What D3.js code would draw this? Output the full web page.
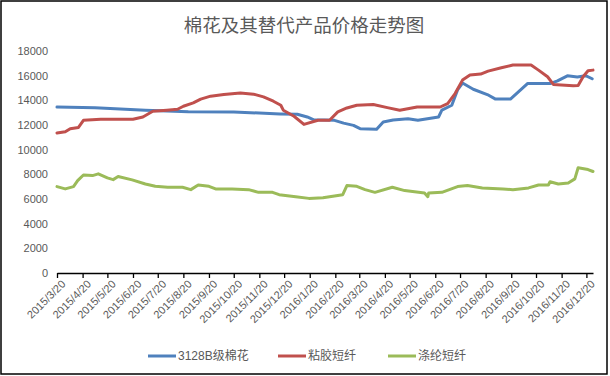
<!DOCTYPE html>
<html>
<head>
<meta charset="utf-8">
<script src="https://cdn.jsdelivr.net/npm/d3@7"></script>
<style>
  body { margin: 0; background: #fff; }
  svg text { font-family: "Liberation Sans", "Noto Sans CJK SC", sans-serif; fill: #595959; }
</style>
</head>
<body>
<svg id="chart" width="610" height="376"></svg>
<script>
const chartTitle = "棉花及其替代产品价格走势图";
const seriesNames = ["3128B级棉花", "粘胶短纤", "涤纶短纤"];
const seriesColors = ["#4F81BD", "#C0504D", "#9BBB59"];
const yTicks = [0, 2000, 4000, 6000, 8000, 10000, 12000, 14000, 16000, 18000];
const xTickLabels = ["2015/3/20","2015/4/20","2015/5/20","2015/6/20","2015/7/20","2015/8/20",
  "2015/9/20","2015/10/20","2015/11/20","2015/12/20","2016/1/20","2016/2/20","2016/3/20",
  "2016/4/20","2016/5/20","2016/6/20","2016/7/20","2016/8/20","2016/9/20","2016/10/20",
  "2016/11/20","2016/12/20"];

// 3128B级棉花
const cotton = [
  ["2015-03-20",13450],["2015-05-05",13400],["2015-07-05",13200],["2015-08-26",13080],
  ["2015-10-20",13050],["2015-12-15",12900],["2016-01-05",12870],["2016-01-17",12650],
  ["2016-01-25",12420],["2016-02-19",12380],["2016-03-01",12150],["2016-03-13",11970],
  ["2016-03-21",11700],["2016-04-10",11650],["2016-04-18",12250],["2016-04-30",12400],
  ["2016-05-18",12500],["2016-05-30",12380],["2016-06-24",12650],["2016-06-28",13200],
  ["2016-07-10",13600],["2016-07-17",14850],["2016-07-23",15400],["2016-08-05",14900],
  ["2016-08-22",14470],["2016-09-01",14100],["2016-09-19",14100],["2016-10-10",15370],
  ["2016-11-07",15370],["2016-11-15",15580],["2016-11-27",15990],["2016-12-09",15900],
  ["2016-12-19",16000],["2016-12-27",15750]
];

// 粘胶短纤
const viscose = [
  ["2015-03-20",11350],["2015-03-30",11450],["2015-04-05",11700],["2015-04-15",11800],
  ["2015-04-21",12380],["2015-05-12",12460],["2015-06-20",12460],["2015-07-02",12650],
  ["2015-07-14",13110],["2015-07-31",13200],["2015-08-13",13280],["2015-08-20",13520],
  ["2015-09-01",13790],["2015-09-10",14100],["2015-09-22",14340],["2015-10-08",14470],
  ["2015-10-28",14600],["2015-11-13",14500],["2015-11-25",14280],["2015-12-07",13930],
  ["2015-12-16",13600],["2015-12-19",13200],["2016-01-01",12710],["2016-01-13",12050],
  ["2016-01-30",12380],["2016-02-13",12380],["2016-02-23",13060],["2016-03-05",13380],
  ["2016-03-17",13600],["2016-04-06",13660],["2016-04-23",13410],["2016-05-08",13200],
  ["2016-05-29",13460],["2016-06-26",13460],["2016-07-05",13740],["2016-07-14",14550],
  ["2016-07-23",15640],["2016-08-01",16050],["2016-08-14",16130],["2016-08-23",16370],
  ["2016-09-08",16640],["2016-09-22",16860],["2016-10-14",16860],["2016-10-23",16450],
  ["2016-11-03",15910],["2016-11-10",15290],["2016-12-04",15180],["2016-12-10",15200],
  ["2016-12-16",15910],["2016-12-22",16400],["2016-12-28",16450]
];

// 涤纶短纤
const polyester = [
  ["2015-03-20",7005],["2015-03-30",6820],["2015-04-09",7005],["2015-04-14",7490],
  ["2015-04-21",7950],["2015-05-02",7900],["2015-05-09",8040],["2015-05-20",7710],
  ["2015-05-27",7570],["2015-06-02",7820],["2015-06-19",7550],["2015-07-05",7220],
  ["2015-07-17",7030],["2015-08-01",6950],["2015-08-19",6950],["2015-08-29",6760],
  ["2015-09-07",7140],["2015-09-20",7030],["2015-09-28",6820],["2015-10-18",6820],
  ["2015-11-07",6760],["2015-11-19",6540],["2015-12-06",6540],["2015-12-14",6350],
  ["2016-01-03",6190],["2016-01-19",6050],["2016-02-05",6100],["2016-02-29",6350],
  ["2016-03-05",7090],["2016-03-17",7030],["2016-03-27",6760],["2016-04-08",6540],
  ["2016-04-29",6950],["2016-05-14",6680],["2016-06-07",6490],["2016-06-11",6190],
  ["2016-06-12",6490],["2016-06-28",6540],["2016-07-17",7005],["2016-07-29",7090],
  ["2016-08-16",6900],["2016-09-10",6820],["2016-09-22",6750],["2016-10-11",6900],
  ["2016-10-23",7140],["2016-11-04",7140],["2016-11-06",7400],["2016-11-16",7220],
  ["2016-11-28",7300],["2016-12-06",7630],["2016-12-10",8530],["2016-12-22",8390],
  ["2016-12-28",8230]
];

const allSeries = [cotton, viscose, polyester];
const parseIso = d3.timeParse("%Y-%m-%d");
const parseTick = d3.timeParse("%Y/%m/%d");

const svg = d3.select("#chart");

// outer border
svg.append("rect")
  .attr("x", 1).attr("y", 1)
  .attr("width", 606).attr("height", 373)
  .attr("fill", "#fff")
  .attr("stroke", "#000")
  .attr("stroke-width", 1.5);

svg.append("text")
  .text(chartTitle)
  .attr("x", 304)
  .attr("y", 32)
  .attr("text-anchor", "middle")
  .style("font-family", "'Noto Sans CJK SC', sans-serif")
  .style("font-size", "18.5px");

const x = d3.scaleTime()
  .domain([parseIso("2015-03-20"), parseIso("2016-12-28")])
  .range([57, 593]);

const y = d3.scaleLinear()
  .domain([0, 18000])
  .range([273, 51]);

// y labels, no axis line
svg.append("g")
  .selectAll("text")
  .data(yTicks)
  .join("text")
  .attr("x", 48)
  .attr("y", d => y(d))
  .attr("dy", "0.35em")
  .attr("text-anchor", "end")
  .style("font-size", "11px")
  .text(d => d);

// x axis
const xAxis = svg.append("g")
  .attr("transform", `translate(0,${y(0)})`)
  .call(d3.axisBottom(x)
    .tickValues(xTickLabels.map(d => parseTick(d)))
    .tickSize(5)
    .tickSizeOuter(0)
    .tickFormat((d, i) => xTickLabels[i]));

xAxis.select(".domain").attr("stroke", "#000").attr("stroke-width", 1.3);
xAxis.selectAll(".tick line").attr("stroke", "#000").attr("stroke-width", 1.3);
xAxis.selectAll(".tick text")
  .attr("fill", "#595959")
  .style("font-size", "11px")
  .style("font-family", "'Liberation Sans', sans-serif")
  .attr("text-anchor", "end")
  .attr("transform", "translate(6,9) rotate(-45)")
  .attr("x", 0)
  .attr("y", 0)
  .attr("dy", "0.35em");

const line = d3.line()
  .x(d => x(parseIso(d[0])))
  .y(d => y(d[1]));

svg.append("g")
  .selectAll("path")
  .data(allSeries)
  .join("path")
  .attr("d", d => line(d))
  .attr("fill", "none")
  .attr("stroke", (d, i) => seriesColors[i])
  .attr("stroke-width", 3)
  .attr("stroke-linejoin", "round")
  .attr("stroke-linecap", "round");

// legend
const legendX = [148, 278, 388];
const legend = svg.append("g")
  .selectAll("g")
  .data(seriesNames)
  .join("g")
  .attr("transform", (d, i) => `translate(${legendX[i]},356)`);

legend.append("line")
  .attr("x1", 0).attr("x2", 28)
  .attr("y1", 0).attr("y2", 0)
  .attr("stroke", (d, i) => seriesColors[i])
  .attr("stroke-width", 3);

legend.append("text")
  .attr("x", 30)
  .attr("dy", "0.36em")
  .style("font-size", "12px")
  .text(d => d);
</script>
</body>
</html>
